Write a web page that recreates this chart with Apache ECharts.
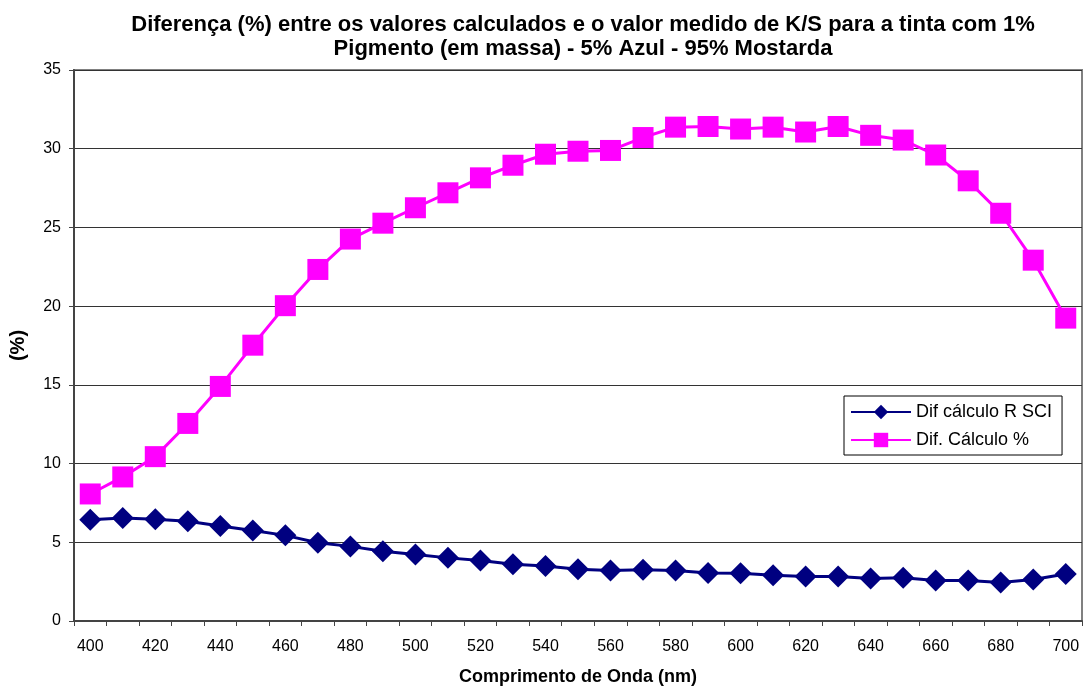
<!DOCTYPE html>
<html>
<head>
<meta charset="utf-8">
<script src="https://cdn.jsdelivr.net/npm/echarts@6/dist/echarts.min.js"></script>
<style>
  html, body { margin: 0; padding: 0; background: #fff; }
  #chart { width: 1085px; height: 691px; }
</style>
</head>
<body>
<div id="chart"></div>
<script>
// comprimentos de onda (nm)
var wavelengths = ['400','410','420','430','440','450','460','470','480','490','500',
  '510','520','530','540','550','560','570','580','590','600',
  '610','620','630','640','650','660','670','680','690','700'];

// Dif cálculo R SCI
var difRSCI = [6.43, 6.55, 6.47, 6.33, 6.03, 5.75, 5.44, 4.97, 4.74, 4.43, 4.22,
  4.01, 3.85, 3.61, 3.50, 3.28, 3.21, 3.26, 3.21, 3.05, 3.03,
  2.91, 2.82, 2.82, 2.70, 2.74, 2.58, 2.58, 2.44, 2.63, 2.98];

// Dif. Cálculo %
var difCalculo = [8.07, 9.15, 10.44, 12.55, 14.9, 17.52, 20.03, 22.33, 24.26, 25.27, 26.25,
  27.2, 28.15, 28.95, 29.65, 29.84, 29.89, 30.71, 31.37, 31.41, 31.25,
  31.37, 31.06, 31.41, 30.85, 30.55, 29.6, 27.96, 25.9, 22.92, 19.24];

var fontFam = '"Liberation Sans", Arial, sans-serif';

var option = {
  animation: false,
  backgroundColor: '#fff',
  textStyle: { fontFamily: fontFam },
  title: {
    text: 'Diferença (%) entre os valores calculados e o valor medido de K/S para a tinta com 1%\nPigmento (em massa) - 5% Azul - 95% Mostarda',
    left: 578,
    top: 8,
    textAlign: 'center',
    textStyle: {
      fontFamily: fontFam,
      fontSize: 22,
      fontWeight: 'bold',
      color: '#000',
      lineHeight: 24
    }
  },
  grid: {
    left: 70,
    right: 3,
    top: 70,
    bottom: 68,
    show: true,
    borderColor: '#808080',
    borderWidth: 2,
    containLabel: false
  },
  legend: {
    orient: 'vertical',
    left: 844,
    top: 396,
    itemWidth: 60,
    itemHeight: 18,
    itemGap: 10,
    padding: [7, 10, 6, 6],
    borderColor: '#000',
    borderWidth: 1,
    backgroundColor: '#fff',
    textStyle: { fontFamily: fontFam, fontSize: 18, color: '#000' },
    data: ['Dif cálculo R SCI', 'Dif. Cálculo %']
  },
  xAxis: {
    type: 'category',
    data: wavelengths,
    boundaryGap: true,
    name: 'Comprimento de Onda (nm)',
    nameLocation: 'middle',
    nameGap: 47,
    nameTextStyle: { fontFamily: fontFam, fontSize: 18, fontWeight: 'bold', color: '#000' },
    axisLine: { lineStyle: { color: '#444', width: 2 } },
    axisTick: { show: true, interval: 0, length: 5, lineStyle: { color: '#444', width: 1 } },
    axisLabel: { interval: 1, fontSize: 16, color: '#000', margin: 18 },
    splitLine: { show: false }
  },
  yAxis: {
    type: 'value',
    min: 0,
    max: 35,
    interval: 5,
    name: '(%)',
    nameLocation: 'middle',
    nameGap: 46,
    nameRotate: 90,
    nameTextStyle: { fontFamily: fontFam, fontSize: 20, fontWeight: 'bold', color: '#000' },
    axisLine: { show: true, lineStyle: { color: '#444', width: 2 } },
    axisTick: { show: true, length: 5, lineStyle: { color: '#444', width: 1 } },
    axisLabel: { fontSize: 16, color: '#000', margin: 13 },
    splitLine: { show: true, lineStyle: { color: '#333', width: 1 } }
  },
  series: [
    {
      name: 'Dif cálculo R SCI',
      type: 'line',
      data: difRSCI,
      symbol: 'diamond',
      symbolSize: 22,
      showAllSymbol: true,
      lineStyle: { color: '#000080', width: 3 },
      itemStyle: { color: '#000080' },
      z: 3
    },
    {
      name: 'Dif. Cálculo %',
      type: 'line',
      data: difCalculo,
      symbol: 'rect',
      symbolSize: 21,
      showAllSymbol: true,
      lineStyle: { color: '#FF00FF', width: 3 },
      itemStyle: { color: '#FF00FF' },
      z: 2
    }
  ]
};

var myChart = echarts.init(document.getElementById('chart'));
myChart.setOption(option);
window.addEventListener('resize', function () {
  myChart.resize();
});
</script>
</body>
</html>
